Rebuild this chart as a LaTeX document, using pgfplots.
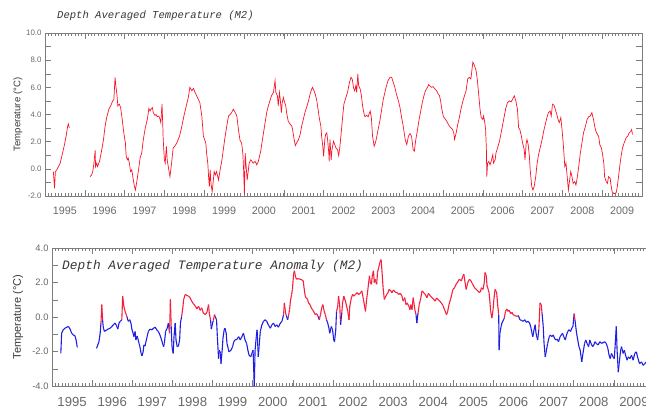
\documentclass[border=0pt]{standalone}
\usepackage{pgfplots}
\pgfplotsset{compat=1.18}
\usepackage{fontspec}
\setmainfont{Liberation Sans}
\newfontfamily\titlefont{Liberation Mono}
\definecolor{framegray}{RGB}{125,125,125}
\definecolor{labgray}{RGB}{105,105,105}
\definecolor{titlegray}{RGB}{55,55,55}
\definecolor{tred}{RGB}{250,20,40}
\definecolor{ablue}{RGB}{30,30,225}
\definecolor{ared}{RGB}{245,30,60}
\begin{document}
\begin{tikzpicture}[x=1bp,y=1bp]
% ---------------- top panel ----------------
\begin{axis}[
  at={(45bp,-196bp)}, anchor=south west,
  scale only axis, width=597bp, height=163bp,
  xmin=1995, xmax=2010, ymin=-2, ymax=10,
  xtick={1995,1996,1997,1998,1999,2000,2001,2002,2003,2004,2005,2006,2007,2008,2009},
  xticklabels={1995,1996,1997,1998,1999,2000,2001,2002,2003,2004,2005,2006,2007,2008,2009},
  minor xtick={1995,1995.0833333,...,2010},
  ytick={-2,-1,...,10},
  yticklabels={-2.0,{},0.0,{},2.0,{},4.0,{},6.0,{},8.0,{},10.0},
  major tick length=6bp, minor tick length=3bp,
  axis line style={framegray, line width=0.6bp},
  tick style={framegray, line width=0.5bp},
  xticklabel style={font=\fontsize{10.8}{12}\selectfont, text=labgray, xshift=19.9bp, yshift=-7bp},
  yticklabel style={font=\fontsize{7.9}{9}\selectfont, text=labgray},
]
\addplot[tred, line width=0.7bp] coordinates {
(1995.21,-0.2)(1995.24,-1.44)(1995.26,-0.2)(1995.29,-0.1)(1995.34,0.17)(1995.38,0.4)(1995.42,0.9)(1995.48,1.66)(1995.53,2.4)(1995.57,3.15)(1995.59,3.3)(1995.61,3.0)
};
\addplot[tred, line width=0.7bp] coordinates {
(1996.13,-0.57)(1996.17,-0.45)(1996.20,-0.2)(1996.23,0.42)(1996.26,1.36)(1996.27,0.17)(1996.30,0.42)(1996.32,0.17)(1996.37,0.55)(1996.42,1.3)(1996.47,2.16)(1996.51,3.15)(1996.55,3.77)(1996.61,4.44)(1996.65,4.63)(1996.70,5.0)(1996.73,5.08)(1996.76,6.74)(1996.78,6.12)(1996.81,5.38)(1996.83,4.63)(1996.87,4.76)(1996.90,4.5)(1996.94,3.64)(1996.98,2.65)
(1997.02,1.9)(1997.04,0.92)(1997.07,0.67)(1997.09,0.8)(1997.12,0.42)(1997.15,-0.2)(1997.18,-0.07)(1997.20,-0.45)(1997.24,-1.19)(1997.27,-1.56)(1997.30,-1.07)(1997.35,-0.07)(1997.39,0.8)(1997.43,1.16)(1997.47,2.16)(1997.52,3.02)(1997.57,3.64)(1997.61,4.44)(1997.64,4.26)(1997.66,4.39)(1997.70,4.5)(1997.72,4.14)(1997.76,3.94)(1997.79,4.0)(1997.82,3.84)(1997.86,3.89)(1997.89,3.64)(1997.91,3.4)(1997.94,4.76)(1997.96,3.15)(1997.97,2.16)
(1998.00,0.67)(1998.02,0.42)(1998.05,1.66)(1998.07,0.67)(1998.11,-0.07)(1998.14,-0.57)(1998.18,0.42)(1998.22,1.54)(1998.26,1.66)(1998.31,1.9)(1998.38,2.4)(1998.43,3.02)(1998.49,3.89)(1998.56,4.76)(1998.60,5.25)(1998.64,6.0)(1998.69,5.75)(1998.73,5.92)(1998.77,5.63)(1998.81,5.38)(1998.85,5.13)(1998.89,4.88)(1998.94,3.89)(1998.98,2.4)
(1999.01,2.16)(1999.04,1.9)(1999.06,1.16)(1999.09,0.42)(1999.11,-0.57)(1999.13,-1.31)(1999.15,-0.07)(1999.17,-1.07)(1999.20,-1.69)(1999.23,-0.82)(1999.25,-0.2)(1999.28,-0.45)(1999.31,-0.2)(1999.34,-0.57)(1999.36,-0.82)(1999.40,-0.07)(1999.44,0.55)(1999.48,1.41)(1999.52,2.28)(1999.56,3.02)(1999.61,3.89)(1999.65,4.0)(1999.69,4.14)(1999.73,4.39)(1999.77,4.2)(1999.82,3.89)(1999.86,2.9)(1999.90,2.1)(1999.94,1.9)(1999.97,1.16)(1999.99,-0.07)
(2000.01,-1.85)(2000.03,1.16)(2000.06,-0.07)(2000.08,-0.82)(2000.11,-0.07)(2000.13,0.42)(2000.17,0.67)(2000.20,0.55)(2000.23,0.42)(2000.28,0.55)(2000.32,0.3)(2000.36,0.55)(2000.38,0.8)(2000.42,1.3)(2000.45,1.9)(2000.49,2.65)(2000.53,3.4)(2000.57,4.14)(2000.61,4.63)(2000.65,5.0)(2000.69,5.38)(2000.74,5.63)(2000.78,6.5)(2000.80,5.63)(2000.84,5.38)(2000.86,4.63)(2000.89,5.63)(2000.91,5.13)(2000.94,4.14)(2000.96,4.88)(2000.99,5.25)
(2001.01,5.0)(2001.05,4.63)(2001.07,4.14)(2001.11,3.52)(2001.16,3.28)(2001.20,3.15)(2001.22,2.9)(2001.26,2.16)(2001.29,1.71)(2001.32,1.9)(2001.37,2.16)(2001.41,2.53)(2001.45,3.15)(2001.49,3.64)(2001.53,4.14)(2001.57,4.5)(2001.62,5.0)(2001.66,5.5)(2001.70,5.87)(2001.72,6.0)(2001.76,5.75)(2001.79,5.5)(2001.83,5.0)(2001.86,4.39)(2001.89,3.77)(2001.93,3.15)(2001.95,2.4)(2001.98,1.66)
(2002.00,0.92)(2002.03,2.16)(2002.05,2.53)(2002.08,2.65)(2002.10,2.16)(2002.13,1.16)(2002.14,0.55)(2002.16,2.16)(2002.19,0.67)(2002.21,1.41)(2002.25,2.03)(2002.28,1.78)(2002.31,1.54)(2002.35,1.41)(2002.38,0.97)(2002.41,1.66)(2002.45,2.9)(2002.48,3.89)(2002.51,4.76)(2002.56,5.25)(2002.60,5.63)(2002.65,6.37)(2002.69,6.74)(2002.72,6.6)(2002.75,6.0)(2002.78,5.75)(2002.81,6.12)(2002.83,5.63)(2002.86,6.99)(2002.88,6.12)(2002.92,5.87)(2002.95,5.38)(2002.98,4.63)
(2003.02,4.0)(2003.04,3.84)(2003.08,3.94)(2003.12,3.84)(2003.17,4.26)(2003.20,3.77)(2003.23,2.4)(2003.27,1.66)(2003.30,1.9)(2003.33,2.28)(2003.37,2.9)(2003.42,3.64)(2003.46,4.39)(2003.50,5.13)(2003.54,5.63)(2003.58,6.12)(2003.62,6.5)(2003.67,6.74)(2003.71,6.74)(2003.75,6.37)(2003.79,6.0)(2003.83,5.5)(2003.88,5.0)(2003.92,4.5)(2003.96,3.77)
(2004.00,3.15)(2004.05,2.16)(2004.09,1.78)(2004.13,2.4)(2004.17,2.6)(2004.21,2.4)(2004.25,1.41)(2004.28,1.3)(2004.31,2.03)(2004.36,2.9)(2004.40,3.64)(2004.44,4.26)(2004.48,4.88)(2004.52,5.38)(2004.56,5.75)(2004.61,6.0)(2004.64,6.2)(2004.67,6.1)(2004.71,6.0)(2004.75,6.05)(2004.80,5.87)(2004.84,5.75)(2004.88,5.5)(2004.91,5.4)(2004.94,5.0)(2004.97,4.39)
(2005.01,3.84)(2005.05,3.69)(2005.09,3.52)(2005.13,3.3)(2005.16,3.15)(2005.20,3.02)(2005.24,2.9)(2005.27,2.65)(2005.29,2.16)(2005.33,2.65)(2005.37,3.27)(2005.41,3.77)(2005.45,4.39)(2005.49,4.88)(2005.54,5.38)(2005.58,5.75)(2005.62,6.62)(2005.66,6.74)(2005.70,6.62)(2005.73,7.36)(2005.75,7.86)(2005.79,7.61)(2005.83,7.24)(2005.86,6.62)(2005.90,5.38)(2005.93,4.39)(2005.96,3.77)
(2006.00,3.64)(2006.02,3.89)(2006.05,3.4)(2006.07,2.9)(2006.09,1.41)(2006.10,-0.57)(2006.12,0.42)(2006.15,0.55)(2006.18,0.3)(2006.21,0.55)(2006.25,1.04)(2006.27,0.42)(2006.31,0.67)(2006.33,1.16)(2006.37,1.54)(2006.42,2.03)(2006.46,2.65)(2006.50,3.27)(2006.54,3.89)(2006.58,4.5)(2006.62,4.88)(2006.67,5.0)(2006.71,4.93)(2006.75,5.13)(2006.79,5.38)(2006.83,5.0)(2006.87,4.39)(2006.90,3.02)(2006.93,2.9)(2006.97,2.4)
(2007.00,1.9)(2007.04,1.41)(2007.06,0.67)(2007.09,1.9)(2007.11,2.16)(2007.14,1.78)(2007.17,0.92)(2007.19,-0.07)(2007.23,-1.31)(2007.26,-1.56)(2007.29,-1.31)(2007.33,-0.57)(2007.36,0.3)(2007.40,1.04)(2007.45,1.66)(2007.49,2.16)(2007.53,2.78)(2007.57,3.27)(2007.61,3.77)(2007.65,4.14)(2007.69,4.26)(2007.72,3.89)(2007.75,4.76)(2007.79,4.68)(2007.82,4.39)(2007.86,4.0)(2007.89,3.64)(2007.92,3.4)(2007.96,3.77)(2007.99,2.9)
(2008.02,1.9)(2008.06,0.17)(2008.09,0.42)(2008.12,-0.57)(2008.15,-1.56)(2008.17,-1.07)(2008.21,-0.2)(2008.24,-0.57)(2008.27,-1.07)(2008.31,-0.94)(2008.34,-1.19)(2008.37,-0.69)(2008.41,0.17)(2008.45,1.16)(2008.49,1.9)(2008.53,2.65)(2008.58,3.15)(2008.62,3.64)(2008.66,3.84)(2008.70,3.89)(2008.74,4.14)(2008.78,3.64)(2008.81,3.15)(2008.84,2.78)(2008.88,2.53)(2008.91,2.4)(2008.94,1.78)(2008.98,1.54)
(2009.01,1.04)(2009.04,0.42)(2009.06,-0.57)(2009.10,-0.94)(2009.13,-1.07)(2009.16,-0.57)(2009.20,-0.69)(2009.22,-1.19)(2009.25,-1.69)(2009.29,-1.81)(2009.32,-1.81)(2009.35,-1.76)(2009.38,-1.31)(2009.42,-0.32)(2009.45,0.42)(2009.48,1.04)(2009.51,1.54)(2009.55,1.9)(2009.60,2.28)(2009.64,2.4)(2009.68,2.65)(2009.72,2.78)(2009.74,2.9)(2009.76,2.53)
};
\end{axis}
\node[anchor=west, inner sep=0pt, text=titlegray, font=\titlefont\itshape\fontsize{10.6}{12}\selectfont] at (57,-16) {Depth Averaged Temperature (M2)};
\node[rotate=90, inner sep=0pt, text=titlegray, font=\fontsize{9.6}{11}\selectfont] at (18,-114.5) {Temperature (°C)};
% ---------------- bottom panel ----------------
\begin{axis}[
  at={(52bp,-386bp)}, anchor=south west,
  scale only axis, width=602bp, height=138bp,
  xmin=1995, xmax=2010, ymin=-4, ymax=4,
  xtick={1995,1996,1997,1998,1999,2000,2001,2002,2003,2004,2005,2006,2007,2008,2009},
  xticklabels={1995,1996,1997,1998,1999,2000,2001,2002,2003,2004,2005,2006,2007,2008,2009},
  minor xtick={1995,1995.0833333,...,2010},
  ytick={-4,-3,...,4},
  yticklabels={-4.0,{},-2.0,{},0.0,{},2.0,{},4.0},
  major tick length=6bp, minor tick length=3bp,
  axis line style={framegray, line width=0.6bp},
  tick style={framegray, line width=0.5bp},
  xticklabel style={font=\fontsize{13.2}{15}\selectfont, text=labgray, xshift=20.07bp, yshift=-8bp},
  yticklabel style={font=\fontsize{9.4}{11}\selectfont, text=labgray},
  colormap={rb}{color=(ablue) color=(ared)},
  colormap access=piecewise constant,
  point meta min=-4, point meta max=4,
]
\addplot[mesh, shader=flat mean, point meta=y, line width=1.1bp] coordinates {
(1995.22,-2.11)(1995.24,-0.94)(1995.28,-0.74)(1995.32,-0.65)(1995.37,-0.59)(1995.41,-0.55)(1995.45,-0.70)(1995.49,-0.94)(1995.53,-1.04)(1995.57,-1.08)(1995.60,-1.33)(1995.63,-1.76)
};
\addplot[mesh, shader=flat mean, point meta=y, line width=1.1bp] coordinates {
(1996.11,-1.82)(1996.14,-1.62)(1996.17,-1.43)(1996.20,-0.94)(1996.22,-0.35)(1996.24,0.72)(1996.26,-0.16)(1996.28,-0.65)(1996.31,-0.84)(1996.34,-0.78)(1996.37,-0.74)(1996.40,-0.70)(1996.45,-0.65)(1996.49,-0.55)(1996.53,-0.45)(1996.57,-0.35)(1996.61,-0.51)(1996.64,-0.70)(1996.67,-0.35)(1996.70,-0.25)(1996.74,-0.16)(1996.76,1.21)(1996.79,0.63)(1996.82,0.33)(1996.85,0.14)(1996.87,0.0)(1996.90,-0.25)(1996.94,-0.16)(1996.97,-0.39)(1996.99,-0.70)
(1997.02,-0.94)(1997.04,-1.14)(1997.07,-0.84)(1997.09,-1.33)(1997.12,-1.10)(1997.14,-1.25)(1997.17,-1.53)(1997.19,-1.72)(1997.22,-2.11)(1997.24,-2.25)(1997.27,-2.02)(1997.29,-1.62)(1997.32,-1.68)(1997.34,-1.43)(1997.37,-1.14)(1997.40,-0.84)(1997.44,-0.70)(1997.49,-0.74)(1997.53,-0.65)(1997.57,-0.59)(1997.61,-0.74)(1997.65,-0.84)(1997.69,-1.04)(1997.73,-1.33)(1997.78,-1.72)(1997.80,-1.53)(1997.83,-0.84)(1997.87,-0.65)(1997.90,-0.35)(1997.93,-0.94)(1997.95,1.02)(1997.97,-0.55)(1997.99,-1.72)
(1998.02,-2.11)(1998.04,-1.14)(1998.07,-0.35)(1998.09,-1.33)(1998.12,-1.72)(1998.15,-1.68)(1998.18,-1.33)(1998.20,-0.35)(1998.23,0.04)(1998.26,0.53)(1998.28,1.02)(1998.32,1.31)(1998.36,1.25)(1998.40,1.21)(1998.44,1.12)(1998.48,0.92)(1998.52,0.78)(1998.57,0.63)(1998.61,0.47)(1998.65,0.63)(1998.69,0.39)(1998.73,0.53)(1998.77,0.23)(1998.82,0.14)(1998.86,0.27)(1998.90,0.72)(1998.92,0.20)(1998.95,-0.16)(1998.97,-0.70)
(1999.00,-0.35)(1999.02,-0.20)(1999.05,0.14)(1999.07,0.0)(1999.10,-0.16)(1999.12,-1.14)(1999.15,-2.41)(1999.17,-1.92)(1999.20,-2.11)(1999.21,-2.70)(1999.24,-1.92)(1999.26,-1.23)(1999.29,-0.74)(1999.31,-0.65)(1999.34,-0.94)(1999.36,-1.53)(1999.39,-1.82)(1999.41,-2.02)(1999.44,-1.96)(1999.46,-1.92)(1999.50,-1.72)(1999.53,-1.43)(1999.56,-1.33)(1999.61,-1.29)(1999.65,-1.14)(1999.69,-1.33)(1999.73,-1.14)(1999.77,-0.94)(1999.81,-1.33)(1999.85,-1.53)(1999.88,-1.92)(1999.91,-2.21)(1999.95,-2.31)(1999.98,-2.11)
(2000.01,-1.92)(2000.04,-4.0)(2000.06,-1.92)(2000.09,-1.14)(2000.11,-0.74)(2000.14,-2.31)(2000.16,-1.72)(2000.19,-0.84)(2000.23,-0.45)(2000.27,-0.25)(2000.31,-0.16)(2000.35,-0.25)(2000.39,-0.45)(2000.44,-0.65)(2000.48,-0.45)(2000.52,-0.35)(2000.56,-0.55)(2000.60,-0.45)(2000.64,-0.59)(2000.69,-0.35)(2000.73,-0.25)(2000.77,0.14)(2000.79,0.82)(2000.82,0.23)(2000.84,0.08)(2000.87,-0.16)(2000.89,0.04)(2000.92,0.43)(2000.94,0.92)(2000.97,1.31)(2000.99,1.60)
(2001.02,2.49)(2001.04,2.68)(2001.07,2.29)(2001.10,2.19)(2001.14,2.23)(2001.18,2.19)(2001.23,2.15)(2001.26,2.09)(2001.28,1.70)(2001.31,1.21)(2001.33,1.12)(2001.37,1.02)(2001.39,0.82)(2001.43,0.72)(2001.46,0.53)(2001.49,0.43)(2001.53,0.27)(2001.56,0.14)(2001.59,0.20)(2001.63,0.04)(2001.66,-0.16)(2001.69,0.14)(2001.72,0.53)(2001.75,0.72)(2001.77,0.43)(2001.81,0.14)(2001.84,-0.16)(2001.87,-0.35)(2001.90,-0.65)(2001.92,-0.94)(2001.96,-0.55)(2001.99,-0.74)
(2002.02,-1.33)(2002.04,-1.43)(2002.07,-0.74)(2002.09,0.33)(2002.12,0.63)(2002.14,1.21)(2002.17,0.63)(2002.19,-0.45)(2002.22,0.23)(2002.24,0.82)(2002.27,1.21)(2002.31,0.92)(2002.34,0.63)(2002.37,0.33)(2002.40,-0.16)(2002.42,0.63)(2002.46,1.12)(2002.49,1.31)(2002.52,1.21)(2002.56,1.31)(2002.60,1.41)(2002.64,1.31)(2002.68,1.37)(2002.72,1.51)(2002.76,1.02)(2002.81,0.33)(2002.84,1.02)(2002.87,1.60)(2002.91,2.39)(2002.93,2.00)(2002.96,1.90)(2002.98,2.39)
(2003.01,2.68)(2003.03,2.00)(2003.05,2.19)(2003.09,1.90)(2003.11,2.58)(2003.14,2.88)(2003.17,3.17)(2003.20,3.33)(2003.23,2.39)(2003.25,1.70)(2003.28,1.02)(2003.30,1.12)(2003.34,1.31)(2003.37,1.41)(2003.40,1.60)(2003.44,1.51)(2003.47,1.41)(2003.51,1.57)(2003.55,1.45)(2003.60,1.41)(2003.64,1.31)(2003.68,1.37)(2003.72,1.21)(2003.75,0.92)(2003.79,1.12)(2003.82,0.72)(2003.85,0.82)(2003.89,0.63)(2003.92,0.43)(2003.94,0.72)(2003.97,0.43)
(2004.00,1.12)(2004.04,0.43)(2004.07,0.14)(2004.09,-0.35)(2004.12,0.23)(2004.15,0.72)(2004.19,1.12)(2004.22,1.51)(2004.26,1.41)(2004.30,1.31)(2004.34,1.12)(2004.38,1.37)(2004.43,1.21)(2004.47,1.12)(2004.51,1.02)(2004.55,0.92)(2004.58,1.1)(2004.62,1.02)(2004.66,0.92)(2004.70,0.82)(2004.74,0.67)(2004.78,0.43)(2004.83,0.14)(2004.86,0.33)(2004.89,0.72)(2004.93,1.02)(2004.96,1.31)(2004.99,1.60)
(2005.03,1.70)(2005.07,1.90)(2005.11,2.04)(2005.15,2.19)(2005.20,2.09)(2005.24,2.39)(2005.26,2.49)(2005.29,2.04)(2005.32,1.60)(2005.36,2.00)(2005.40,2.19)(2005.44,2.09)(2005.48,1.90)(2005.53,1.70)(2005.57,1.60)(2005.61,1.51)(2005.65,1.41)(2005.68,1.51)(2005.70,1.70)(2005.74,1.60)(2005.77,2.00)(2005.79,2.58)(2005.82,2.39)(2005.84,1.80)(2005.87,1.60)(2005.89,1.41)(2005.91,0.92)(2005.93,0.33)(2005.96,-0.06)(2005.99,0.43)
(2006.01,1.02)(2006.04,1.60)(2006.08,1.41)(2006.10,0.82)(2006.13,0.14)(2006.14,-1.92)(2006.16,-0.94)(2006.19,-0.55)(2006.21,-0.35)(2006.25,-0.16)(2006.27,-0.06)(2006.30,0.33)(2006.33,0.47)(2006.36,0.33)(2006.39,0.39)(2006.43,0.20)(2006.46,0.27)(2006.49,0.14)(2006.53,0.08)(2006.58,0.04)(2006.62,0.08)(2006.66,-0.16)(2006.70,-0.20)(2006.74,-0.25)(2006.78,-0.16)(2006.82,-0.31)(2006.86,-0.25)(2006.90,-0.35)(2006.93,-0.59)(2006.96,-0.94)(2006.98,-1.14)
(2007.01,-0.74)(2007.04,-0.45)(2007.06,-0.94)(2007.10,-1.33)(2007.13,-0.74)(2007.16,0.82)(2007.19,0.72)(2007.21,0.23)(2007.24,-0.55)(2007.26,-1.53)(2007.29,-2.31)(2007.32,-1.92)(2007.35,-1.53)(2007.39,-1.14)(2007.42,-1.04)(2007.45,-1.14)(2007.49,-1.04)(2007.52,-1.23)(2007.55,-1.33)(2007.59,-1.28)(2007.62,-1.43)(2007.66,-1.14)(2007.69,-1.04)(2007.72,-0.94)(2007.75,-1.14)(2007.79,-1.33)(2007.82,-1.04)(2007.85,-0.84)(2007.88,-0.74)(2007.92,-0.84)(2007.95,-0.65)(2007.98,-0.55)
(2008.01,0.20)(2008.03,-0.16)(2008.07,-0.94)(2008.10,-1.33)(2008.13,-1.72)(2008.16,-1.92)(2008.20,-2.60)(2008.23,-2.11)(2008.27,-1.53)(2008.30,-1.33)(2008.33,-1.53)(2008.37,-1.72)(2008.40,-1.33)(2008.43,-1.53)(2008.47,-1.72)(2008.50,-1.62)(2008.53,-1.43)(2008.56,-1.53)(2008.61,-1.62)(2008.65,-1.43)(2008.69,-1.53)(2008.73,-1.49)(2008.77,-1.43)(2008.81,-1.53)(2008.85,-1.82)(2008.88,-2.21)(2008.91,-2.41)(2008.94,-2.11)(2008.98,-2.31)
(2009.01,-2.41)(2009.03,-1.72)(2009.06,-0.55)(2009.08,-1.92)(2009.11,-3.19)(2009.14,-2.50)(2009.17,-1.92)(2009.19,-1.72)(2009.23,-2.11)(2009.26,-1.92)(2009.29,-2.21)(2009.33,-2.50)(2009.36,-2.31)(2009.40,-2.41)(2009.44,-2.21)(2009.48,-2.50)(2009.52,-2.11)(2009.56,-2.02)(2009.60,-2.41)(2009.64,-2.70)(2009.69,-2.60)(2009.73,-2.80)(2009.77,-2.70)(2009.81,-2.60)(2009.85,-2.65)
};
\end{axis}
\node[anchor=west, inner sep=0pt, text=titlegray, font=\titlefont\itshape\fontsize{12.9}{14}\selectfont] at (62,-266) {Depth Averaged Temperature Anomaly (M2)};
\node[rotate=90, inner sep=0pt, text=titlegray, font=\fontsize{11}{13}\selectfont] at (18,-317) {Temperature (°C)};
\pgfresetboundingbox
\useasboundingbox (0,0) rectangle (646,-410);
\end{tikzpicture}
\end{document}
